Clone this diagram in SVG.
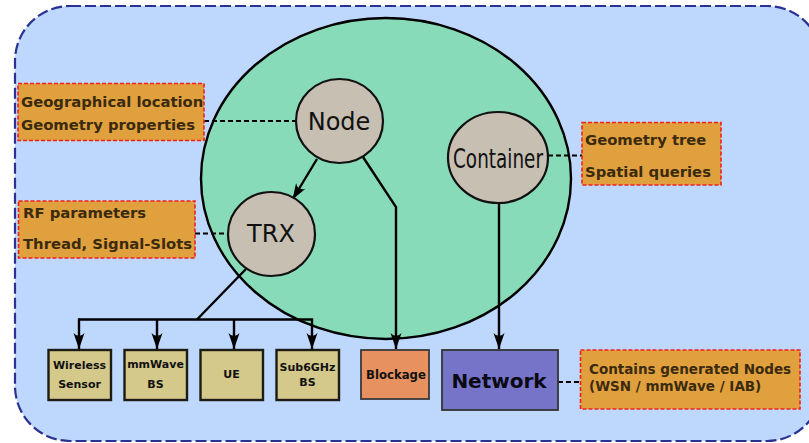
<svg xmlns="http://www.w3.org/2000/svg" width="809" height="443" viewBox="0 0 809 443">
  <style>
    .note { fill: #e0a03e; stroke: #f0201c; stroke-width: 1.6; stroke-dasharray: 4 2; }
    .note-text { font-family: "DejaVu Sans", "Liberation Sans", sans-serif; font-weight: bold; font-size: 14.8px; fill: #3a2a0e; }
    .note-text.small { font-size: 13.5px; }
    .obj { fill: #c6bfb2; stroke: #111; stroke-width: 2.2; }
    .obj-text { font-family: "DejaVu Sans", "Liberation Sans", sans-serif; font-size: 24px; fill: #111; text-anchor: middle; }
    .obj-text.narrow { font-size: 27px; }
    .dev { fill: #d4c88b; stroke: #1c1c14; stroke-width: 2.4; }
    .dev-text { font-family: "DejaVu Sans", "Liberation Sans", sans-serif; font-weight: bold; font-size: 11px; fill: #111; text-anchor: middle; }
    .dev-text.wide { font-size: 11.7px; }
    .link { fill: none; stroke: #000; stroke-width: 2.4; }
    .dash { fill: none; stroke: #000; stroke-width: 2; stroke-dasharray: 5 3; }
  </style>
  <defs>
    <marker id="head" viewBox="-18 -6.5 19 13" refX="0" refY="0" markerWidth="19" markerHeight="13" markerUnits="userSpaceOnUse" orient="auto">
      <path d="M0,0 L-16,-5.5 Q-10,0 -16,5.5 Z" fill="#000"/>
    </marker>
  </defs>

  <!-- simulation scope -->
  <rect id="scope" x="15" y="6" width="807" height="435" rx="55" ry="55" fill="#bdd7fd" stroke="#2a3192" stroke-width="2.2" stroke-dasharray="11 4"/>

  <!-- geometry domain -->
  <ellipse id="domain" cx="386" cy="178.5" rx="185" ry="160.5" fill="#88dbb8" stroke="#000" stroke-width="2.4"/>

  <!-- connectors -->
  <g id="connectors">
    <line class="dash" x1="204" y1="121" x2="296" y2="121"/>
    <line class="dash" x1="195" y1="233.5" x2="228" y2="233.5"/>
    <line class="dash" x1="548" y1="155.5" x2="582" y2="155.5"/>
    <line class="dash" x1="558" y1="382" x2="580" y2="382"/>

    <line class="link" x1="317" y1="159" x2="292.5" y2="199.5" marker-end="url(#head)"/>
    <polyline class="link" points="363,157 396,207 396,349" marker-end="url(#head)"/>
    <line class="link" x1="499" y1="203" x2="499" y2="349" marker-end="url(#head)"/>

    <line class="link" x1="246" y1="269" x2="197" y2="319.5"/>
    <polyline class="link" points="79,319.5 312,319.5 312,349" marker-end="url(#head)"/>
    <line class="link" x1="79" y1="318.3" x2="79" y2="349" marker-end="url(#head)"/>
    <line class="link" x1="157" y1="319.5" x2="157" y2="349" marker-end="url(#head)"/>
    <line class="link" x1="234" y1="319.5" x2="234" y2="349" marker-end="url(#head)"/>
  </g>

  <!-- annotations -->
  <g id="note-node">
    <rect class="note" x="18" y="83.5" width="186" height="57"/>
    <text class="note-text" x="21" y="106.5">Geographical location</text>
    <text class="note-text" x="21" y="130">Geometry properties</text>
  </g>
  <g id="note-trx">
    <rect class="note" x="18.5" y="201" width="176.5" height="57"/>
    <text class="note-text" x="23" y="217.5">RF parameters</text>
    <text class="note-text" x="23" y="248.5">Thread, Signal-Slots</text>
  </g>
  <g id="note-container">
    <rect class="note" x="582" y="122.5" width="139" height="62.5"/>
    <text class="note-text" x="585" y="145">Geometry tree</text>
    <text class="note-text" x="585" y="176.5">Spatial queries</text>
  </g>
  <g id="note-network">
    <rect class="note" x="580.5" y="350" width="219.5" height="59"/>
    <text class="note-text small" x="589" y="374">Contains generated Nodes</text>
    <text class="note-text small" x="589" y="391">(WSN / mmWave / IAB)</text>
  </g>

  <!-- core objects -->
  <g id="node">
    <ellipse class="obj" cx="339.5" cy="121" rx="43.5" ry="42"/>
    <text class="obj-text" x="339" y="130">Node</text>
  </g>
  <g id="trx">
    <ellipse class="obj" cx="271.5" cy="234" rx="43.5" ry="42"/>
    <text class="obj-text" x="271" y="242">TRX</text>
  </g>
  <g id="container">
    <ellipse class="obj" cx="498" cy="157.5" rx="50" ry="45.5"/>
    <text class="obj-text narrow" x="498" y="168" textLength="90" lengthAdjust="spacingAndGlyphs">Container</text>
  </g>

  <!-- device types -->
  <g id="wireless-sensor">
    <rect class="dev" x="48.5" y="350" width="62.5" height="50"/>
    <text class="dev-text" x="79.5" y="369">Wireless</text>
    <text class="dev-text" x="79.5" y="388">Sensor</text>
  </g>
  <g id="mmwave-bs">
    <rect class="dev" x="124.5" y="350" width="62.5" height="50"/>
    <text class="dev-text" x="155.5" y="368">mmWave</text>
    <text class="dev-text" x="155.5" y="388">BS</text>
  </g>
  <g id="ue">
    <rect class="dev" x="200.5" y="350" width="62.5" height="50"/>
    <text class="dev-text" x="231.5" y="378">UE</text>
  </g>
  <g id="sub6ghz-bs">
    <rect class="dev" x="276.5" y="350" width="62.5" height="50"/>
    <text class="dev-text" x="307.5" y="371">Sub6GHz</text>
    <text class="dev-text" x="307.5" y="386">BS</text>
  </g>

  <g id="blockage">
    <rect x="361" y="350" width="68" height="49" fill="#e6915f" stroke="#3a3a3a" stroke-width="1.8"/>
    <text class="dev-text wide" x="396" y="379">Blockage</text>
  </g>
  <g id="network">
    <rect x="442" y="350" width="116" height="60" fill="#7674c8" stroke="#333" stroke-width="1.8"/>
    <text x="499" y="388" font-family="DejaVu Sans, Liberation Sans, sans-serif" font-weight="bold" font-size="20" fill="#0a0a14" text-anchor="middle">Network</text>
  </g>
</svg>
